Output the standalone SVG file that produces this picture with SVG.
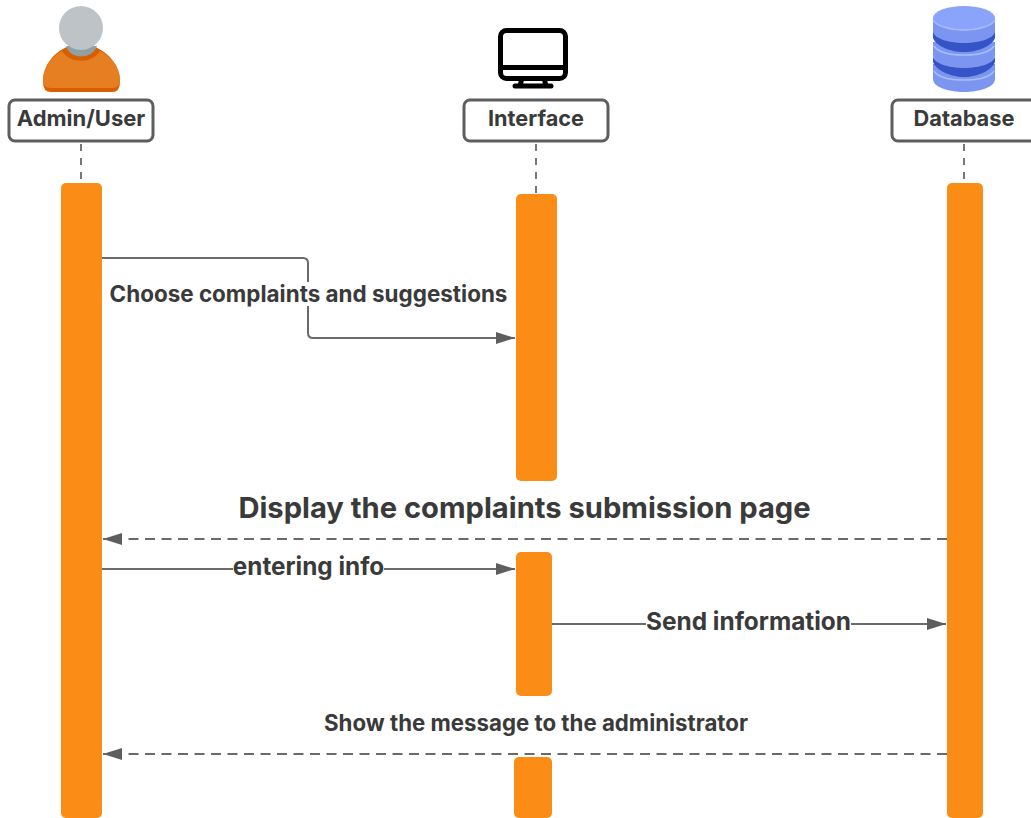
<svg xmlns="http://www.w3.org/2000/svg" width="1031" height="818" viewBox="0 0 1031 818">
<style>
.box{fill:#fff;stroke:#5e5e5e;stroke-width:3}
.t{font-family:Inter,"Liberation Sans",sans-serif;font-weight:700;fill:#3a3a3a;text-anchor:middle}
.bar{fill:#fb8d17}
.life{stroke:#777;stroke-width:2;stroke-dasharray:7 7;fill:none}
.c{stroke:#6a6a6a;stroke-width:2;fill:none}
.d{stroke-dasharray:10 6.5}
.mask{fill:#fff}
</style>
<defs>
<marker id="a" markerUnits="userSpaceOnUse" markerWidth="20" markerHeight="14" refX="19" refY="6" orient="auto"><path d="M0 0L19 6L0 12Z" fill="#5e5e5e"/></marker>
</defs>
<rect width="1031" height="818" fill="#fff"/>
<g id="connectors">
<path class="life" d="M81 144V183"/>
<path class="life" d="M536 144V194"/>
<path class="life" d="M964 144V183"/>
<path class="c" marker-end="url(#a)" d="M102 258H303Q308 258 308 263V333Q308 338 313 338H515"/>
<path class="c d" marker-end="url(#a)" d="M947 539H103"/>
<path class="c" marker-end="url(#a)" d="M102 569H515"/>
<path class="c" marker-end="url(#a)" d="M552 624H946"/>
<path class="c d" marker-end="url(#a)" d="M947 754H103"/>
</g>
<g id="admin-user">
<path d="M43 82C43 64 55 52 67 47H95C107 52 120 64 120 82Q120 92 112 92H51Q43 92 43 82Z" fill="#d85f00"/>
<path d="M43 80C43 66 53 56 62 51C70 64 92 64 100 51C110 56 120 66 120 80Q120 88 112 88H51Q43 88 43 80Z" fill="#e67e22"/>
<path d="M66 46C70 60 92 60 97 46Z" fill="#8fa0a3"/>
<circle cx="81" cy="28" r="22" fill="#bdc3c7"/>
<rect class="box" x="9" y="100" width="144" height="41" rx="6"/>
<text class="t" x="81" y="126" font-size="22">Admin/User</text>
</g>
<g id="interface">
<rect x="500.500" y="30.500" width="65" height="48" rx="6" fill="#fff" stroke="#000" stroke-width="5"/>
<path d="M500 67.500H566" stroke="#000" stroke-width="5" fill="none"/>
<path d="M522 78L520 86M544 78L546 86" stroke="#000" stroke-width="5"/>
<path d="M515 86H551" stroke="#000" stroke-width="5" stroke-linecap="round"/>
<rect class="box" x="464" y="100" width="144" height="41" rx="6"/>
<text class="t" x="536" y="126" font-size="21.700">Interface</text>
</g>
<g id="database">
<path d="M933 64V79C933 87 948 92 964 92C980 92 995 87 995 79V64Z" fill="#7b95f0"/>
<path d="M933 58V62C936 70 950 77 964 77C978 77 992 70 995 62V58Z" fill="#3454c8"/>
<path d="M933 42V56C933 63 948 68 964 68C980 68 995 63 995 56V42Z" fill="#7b95f0"/>
<path d="M933 32V38C936 46 950 52 964 52C978 52 992 46 995 38V32Z" fill="#3454c8"/>
<path d="M933 18V31C933 38 948 43 964 43C980 43 995 38 995 31V18Z" fill="#7b95f0"/>
<ellipse cx="964" cy="18" rx="31" ry="12" fill="#8aa3fb"/>
<path d="M933 20C936 26 950 30 964 30C978 30 992 26 995 20" fill="none" stroke="#a9bcfb" stroke-width="1.500"/>
<path d="M934 46C938 52 950 55 964 55C978 55 990 52 994 46M934 71C938 77 950 80 964 80C978 80 990 77 994 71" fill="none" stroke="#a9bcfb" stroke-width="1.500"/>
<rect class="box" x="892" y="100" width="144" height="41" rx="6"/>
<text class="t" x="964" y="126" font-size="21.800">Database</text>
</g>
<g id="activations">
<rect class="bar" x="61" y="183" width="41" height="635" rx="5"/>
<rect class="bar" x="516" y="194" width="41" height="287" rx="5"/>
<rect class="bar" x="947" y="183" width="36" height="635" rx="5"/>
<rect class="bar" x="516" y="552" width="36" height="144" rx="5"/>
<rect class="bar" x="514" y="757" width="38" height="61" rx="5"/>
</g>
<g id="labels">
<rect class="mask" x="108" y="282" width="401" height="24"/>
<text class="t" x="308.500" y="302" font-size="22.450">Choose complaints and suggestions</text>
<text class="t" x="524.500" y="518" font-size="29.150">Display the complaints submission page</text>
<rect class="mask" x="233" y="555" width="151" height="24"/>
<text class="t" x="308.500" y="575" font-size="24.300">entering info</text>
<rect class="mask" x="646" y="610" width="205" height="24"/>
<text class="t" x="748.500" y="630" font-size="24.400">Send information</text>
<text class="t" x="536" y="731" font-size="22.250">Show the message to the administrator</text>
</g>
</svg>
